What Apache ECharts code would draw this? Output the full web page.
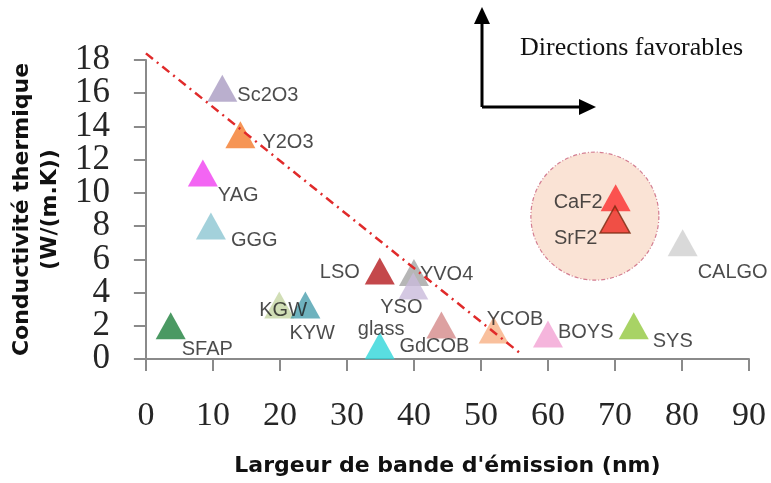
<!DOCTYPE html>
<html>
<head>
<meta charset="utf-8">
<script src="https://cdn.jsdelivr.net/npm/echarts@6/dist/echarts.min.js"></script>
<style>
  html, body { margin: 0; padding: 0; background: #fff; }
  #chart { width: 771px; height: 483px; }
</style>
</head>
<body>
<div id="chart"></div>
<script>
  // matériaux laser : largeur de bande (nm) / conductivité thermique (W/(m.K))
  var materials = ['Sc2O3', 'Y2O3', 'YAG', 'GGG', 'SFAP', 'KGW', 'KYW', 'LSO', 'YVO4', 'YSO',
    'glass', 'GdCOB', 'YCOB', 'BOYS', 'SYS', 'CALGO', 'CaF2', 'SrF2']
  var bandwidth = [11.4, 14.1, 8.5, 9.7, 3.7, 19.9, 23.8, 34.9, 40.0, 39.9,
    34.9, 44.1, 51.9, 60.0, 72.8, 80.1, 70.1, 70.0]
  var conductivity = [16.3, 13.5, 11.2, 8.0, 2.0, 3.25, 3.25, 5.3, 5.2, 4.4,
    0.8, 2.05, 1.75, 1.5, 2.0, 7.0, 9.7, 8.4]

  // droite de tendance (pointillés rouges)
  var trendX = [0, 56]
  var trendY = [18.4, 0.3]

  // zone mise en évidence (CaF2 / SrF2)
  var highlightX = [67]
  var highlightY = [8.6]

  var xTicks = [0, 10, 20, 30, 40, 50, 60, 70, 80, 90]
  var yTicks = [0, 2, 4, 6, 8, 10, 12, 14, 16, 18]

  // styles des marqueurs
  var markerColors = ['#a99bc2', '#f47a2a', '#f03ef0', '#8cc6d2', '#1e7f3c', '#c5d6a4', '#4a9fae',
    '#b51a1e', '#a4a4a4', '#c9badb', '#2fd6d9', '#d48a8a', '#f7b085', '#f2a3d3', '#92c83e',
    '#cfcfcf', '#fb2e2e', '#ee2b22']
  // décalage des étiquettes (px) par rapport au centre du triangle
  var labelOffsets = [[15, 7], [22, 8], [15, 23], [20, 14], [11, 24], [-20, 5], [-16, 28],
    [-60, 2], [6, 2], [-33, 22], [-22, -16], [-42, 22], [-7, -10], [10, -2], [19, 16],
    [15, 30], [-62, 5], [-61, 19]]

  var points = materials.map(function (name, i) {
    var item = {
      name: name,
      value: [bandwidth[i], conductivity[i]],
      itemStyle: { color: markerColors[i] },
      label: { offset: labelOffsets[i] }
    }
    if (name === 'SrF2') {
      item.itemStyle.borderColor = '#7a2a12'
      item.itemStyle.borderWidth = 1.5
    }
    return item
  })

  // les graduations y sont serrées : on répartit les étiquettes sur deux axes superposés
  var yLabelsA = yTicks.filter(function (v, i) { return i % 2 === 0 })
  var yLabelsB = yTicks.filter(function (v, i) { return i % 2 === 1 })

  var myChart = echarts.init(document.getElementById('chart'))
  var axisColor = '#8a8a8a'
  var yLabelStyle = { margin: 36, fontFamily: 'Liberation Serif', fontSize: 35, color: '#262626' }
  var myOption = {
    animation: false,
    grid: { left: 143, right: 22, top: 60, bottom: 124 },
    //x轴
    xAxis: {
      type: 'value',
      min: xTicks[0],
      max: xTicks[xTicks.length - 1],
      interval: 10,
      name: "Largeur de bande d'émission (nm)",
      nameLocation: 'middle',
      nameGap: 96,
      nameTextStyle: { fontFamily: 'DejaVu Sans', fontWeight: 'bold', fontSize: 22, color: '#111' },
      splitLine: { show: false },
      axisLine: { onZero: false, lineStyle: { color: axisColor, width: 2 } },
      axisTick: { length: 12, lineStyle: { color: axisColor, width: 2 } },
      axisLabel: {
        margin: 40, showMinLabel: true, showMaxLabel: true,
        fontFamily: 'Liberation Serif', fontSize: 34, color: '#262626'
      }
    },
    //y轴
    yAxis: [
      {
        type: 'value',
        position: 'left',
        min: yTicks[0],
        max: yTicks[yTicks.length - 1],
        interval: 2,
        name: 'Conductivité thermique\n(W/(m.K))',
        nameLocation: 'middle',
        nameGap: 78,
        nameTextStyle: { fontFamily: 'DejaVu Sans', fontWeight: 'bold', fontSize: 22, lineHeight: 28, color: '#111' },
        splitLine: { show: false },
        axisLine: { onZero: false, lineStyle: { color: axisColor, width: 2 } },
        axisTick: { length: 12, lineStyle: { color: axisColor, width: 2 } },
        axisLabel: Object.assign({ customValues: yLabelsA }, yLabelStyle)
      },
      {
        type: 'value',
        position: 'left',
        offset: 0,
        min: yTicks[0],
        max: yTicks[yTicks.length - 1],
        interval: 2,
        splitLine: { show: false },
        axisLine: { show: false },
        axisTick: { show: false },
        axisLabel: Object.assign({ customValues: yLabelsB }, yLabelStyle)
      }
    ],
    series: [
      {
        // cercle CaF2 / SrF2
        type: 'scatter',
        silent: true,
        z: 1,
        symbol: 'circle',
        symbolSize: 128,
        itemStyle: {
          color: '#f9dccb',
          borderColor: '#c9607a',
          borderWidth: 1.2,
          borderType: [4, 2, 1, 2]
        },
        data: highlightX.map(function (x, i) { return [x, highlightY[i]] })
      },
      {
        type: 'scatter',
        z: 3,
        symbol: 'triangle',
        symbolSize: [30, 27],
        label: {
          show: true,
          position: 'inside',
          align: 'left',
          verticalAlign: 'middle',
          formatter: '{b}',
          fontFamily: 'Liberation Sans',
          fontSize: 20,
          color: '#1e1e1e'
        },
        data: points
      },
      {
        type: 'line',
        z: 5,
        silent: true,
        clip: false,
        symbol: 'none',
        lineStyle: { color: '#e02a2a', width: 2.5, type: [9, 5, 2, 5] },
        data: trendX.map(function (x, i) { return [x, trendY[i]] })
      }
    ],
    graphic: [
      { type: 'line', shape: { x1: 482, y1: 107, x2: 482, y2: 20 }, style: { stroke: '#000', lineWidth: 3 } },
      { type: 'polygon', shape: { points: [[482, 7], [474, 24], [490, 24]] }, style: { fill: '#000' } },
      { type: 'line', shape: { x1: 482, y1: 107, x2: 584, y2: 107 }, style: { stroke: '#000', lineWidth: 3 } },
      { type: 'polygon', shape: { points: [[596, 107], [579, 99], [579, 115]] }, style: { fill: '#000' } },
      {
        type: 'text',
        left: 520,
        top: 35,
        style: { text: 'Directions favorables', fontFamily: 'Liberation Serif', fontSize: 26, fill: '#111' }
      }
    ]
  }
  myChart.setOption(myOption)
</script>
</body>
</html>
